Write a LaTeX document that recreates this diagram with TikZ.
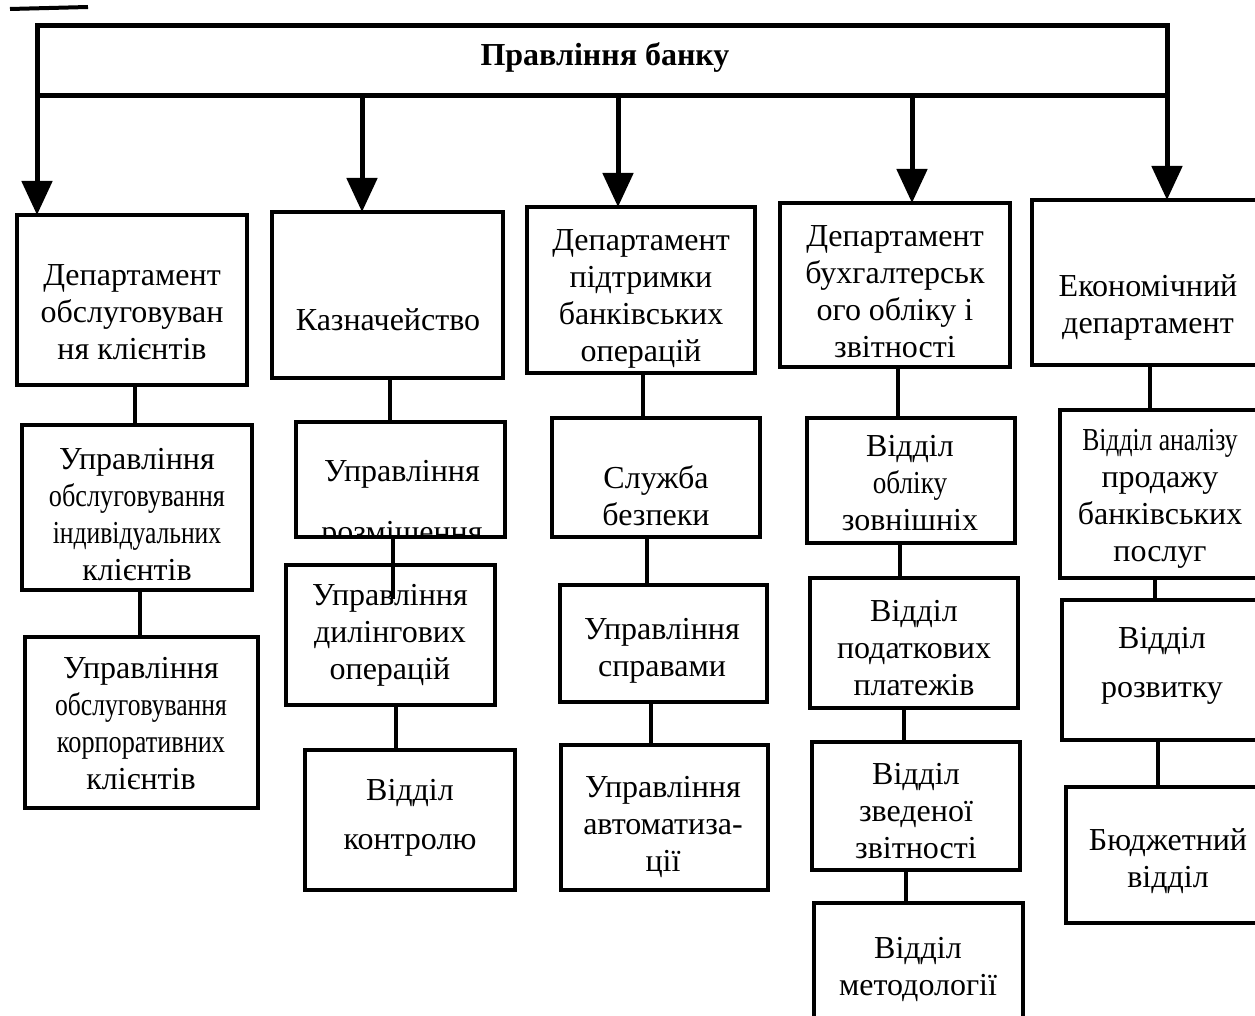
\documentclass[tikz,border=0pt]{standalone}
\usepackage{fontspec}
\setmainfont{Liberation Serif}
\usepackage{graphicx}
\usetikzlibrary{fit,arrows.meta}
\tikzset{
  box/.style={draw=black, line width=1.9pt, rectangle, inner sep=0pt, outer sep=0pt},
  topbox/.style={draw=black, line width=2.5pt, rectangle, inner sep=0pt, outer sep=0pt},
  txt/.style={align=center, inner sep=0pt, font=\fontsize{16}{18.5}\selectfont},
  arr/.style={line width=2.5pt, -{Triangle[width=15pt,length=17pt]}},
  link/.style={line width=1.6pt},
}
\newcommand\cnd[2][0.82]{\scalebox{#1}[1]{#2}}
\begin{document}
\begin{tikzpicture}[x=0.5pt,y=-0.5pt]
\useasboundingbox (0,0) rectangle (1255,1016);
% stray scan mark
\coordinate (s1) at (10,9);
\coordinate (s2) at (88,7);
\draw[line width=2pt] (s1) -- (s2);
% top box
\node[topbox, fit={(37,26) (1167,96)}] (top) {};
\node[txt, font=\fontsize{16}{18.5}\selectfont\bfseries] (topt) at (605,58) {Правління банку};
% columns
\coordinate (cb) at (362,0);
\coordinate (cc) at (618,0);
\coordinate (cd) at (912,0);
% level 1 boxes
\node[box, fit={(17,215) (247,385)}] (a1) {};
\node[box, fit={(272,212) (503,378)}] (b1) {};
\node[box, fit={(527,207) (755,373)}] (c1) {};
\node[box, fit={(780,203) (1010,367)}] (d1) {};
\node[box, fit={(1032,200) (1275,365)}] (e1) {};
% arrows
\draw[arr] (top.south west) -- (top.south west |- a1.north);
\draw[arr] (top.south -| cb) -- (b1.north -| cb);
\draw[arr] (top.south -| cc) -- (c1.north -| cc);
\draw[arr] (top.south -| cd) -- (d1.north -| cd);
\draw[arr] (top.south east) -- (top.south east |- e1.north);
% level 1 texts
\node[txt] (a1t) at (132,312) {Департамент\\обслуговуван\\ня клієнтів};
\node[txt] (b1t) at (388,320) {Казначейство};
\begin{scope}
\clip (c1.north west) rectangle (c1.south east);
\node[txt] (c1t) at (641,299) {Департамент\\підтримки\\банківських\\операцій};
\end{scope}
\node[txt] (d1t) at (895,292) {Департамент\\бухгалтерськ\\ого обліку і\\звітності};
\node[txt] (e1t) at (1148,307) {Економічний\\департамент};
% column A
\node[box, fit={(22,425) (252,590)}] (a2) {};
\node[txt] (a2t) at (137,515) {Управління\\\cnd{обслуговування}\\\cnd[0.8]{індивідуальних}\\клієнтів};
\node[box, fit={(25,637) (258,808)}] (a3) {};
\node[txt] (a3t) at (141,724) {Управління\\\cnd[0.8]{обслуговування}\\\cnd[0.82]{корпоративних}\\клієнтів};
\coordinate (xa1) at (135,0);
\coordinate (xa2) at (140,0);
\draw[link] (a1.south -| xa1) -- (a2.north -| xa1);
\draw[link] (a2.south -| xa2) -- (a3.north -| xa2);
% column B
\node[box, fit={(296,422) (505,537)}] (b2) {};
\begin{scope}
\clip (b2.north west) rectangle (b2.south east);
\node[txt] (b2t) at (402,505) {Управління\\[12pt]розміщення};
\end{scope}
\node[box, fit={(286,565) (495,705)}] (b3) {};
\node[txt] (b3t) at (390,635) {Управління\\дилінгових\\операцій};
\node[box, fit={(305,750) (515,890)}] (b4) {};
\node[txt] (b4t) at (410,818) {Відділ\\[6pt]контролю};
\coordinate (xb1) at (390,0);
\coordinate (xb2) at (393,0);
\coordinate (xb3) at (396,0);
\draw[link] (b1.south -| xb1) -- (b2.north -| xb1);
\draw[link] (b2.south -| xb2) -- ([yshift=-17pt]b3.north -| xb2);
\draw[link] (b3.south -| xb3) -- (b4.north -| xb3);
% column C
\node[box, fit={(552,418) (760,537)}] (c2) {};
\node[txt] (c2t) at (656,496) {Служба\\безпеки};
\node[box, fit={(560,585) (767,702)}] (c3) {};
\node[txt] (c3t) at (662,651) {Управління\\справами};
\node[box, fit={(561,745) (768,890)}] (c4) {};
\node[txt] (c4t) at (663,827) {Управління\\автоматиза-\\ції};
\coordinate (xc1) at (643,0);
\coordinate (xc2) at (647,0);
\coordinate (xc3) at (651,0);
\draw[link] (c1.south -| xc1) -- (c2.north -| xc1);
\draw[link] (c2.south -| xc2) -- (c3.north -| xc2);
\draw[link] (c3.south -| xc3) -- (c4.north -| xc3);
% column D
\node[box, fit={(807,418) (1015,543)}] (d2) {};
\node[txt] (d2t) at (910,483) {Відділ\\\cnd[0.85]{обліку}\\зовнішніх};
\node[box, fit={(810,578) (1018,708)}] (d3) {};
\node[txt] (d3t) at (914,648) {Відділ\\податкових\\платежів};
\node[box, fit={(812,742) (1020,870)}] (d4) {};
\node[txt] (d4t) at (916,811) {Відділ\\зведеної\\звітності};
\node[box, fit={(814,903) (1023,1040)}] (d5) {};
\node[txt] (d5t) at (918,969) {Відділ\\методології};
\coordinate (xd1) at (898,0);
\coordinate (xd2) at (900,0);
\coordinate (xd3) at (904,0);
\coordinate (xd4) at (906,0);
\draw[link] (d1.south -| xd1) -- (d2.north -| xd1);
\draw[link] (d2.south -| xd2) -- (d3.north -| xd2);
\draw[link] (d3.south -| xd3) -- (d4.north -| xd3);
\draw[link] (d4.south -| xd4) -- (d5.north -| xd4);
% column E
\node[box, fit={(1060,410) (1262,578)}] (e2) {};
\node[txt] (e2t) at (1160,499) {\cnd[0.8]{Відділ аналізу}\\продажу\\банківських\\послуг};
\node[box, fit={(1062,600) (1262,740)}] (e3) {};
\node[txt] (e3t) at (1162,666) {Відділ\\[6pt]розвитку};
\node[box, fit={(1066,787) (1262,923)}] (e4) {};
\node[txt] (e4t) at (1168,861) {Бюджетний\\відділ};
\coordinate (xe1) at (1150,0);
\coordinate (xe2) at (1155,0);
\coordinate (xe3) at (1158,0);
\draw[link] (e1.south -| xe1) -- (e2.north -| xe1);
\draw[link] (e2.south -| xe2) -- (e3.north -| xe2);
\draw[link] (e3.south -| xe3) -- (e4.north -| xe3);
\end{tikzpicture}
\end{document}
